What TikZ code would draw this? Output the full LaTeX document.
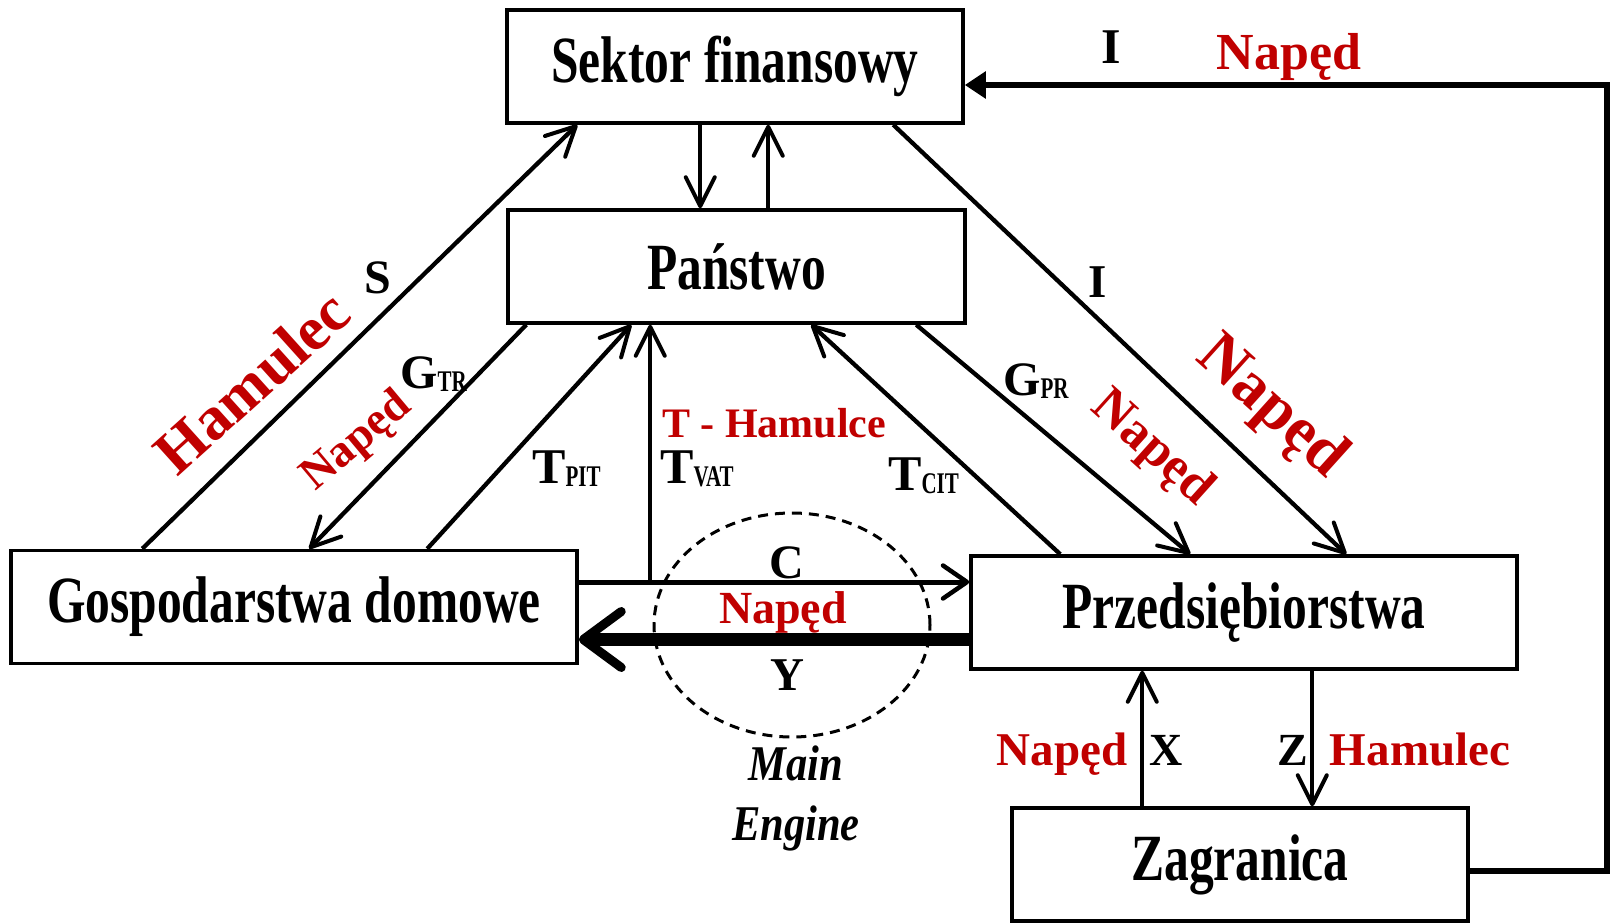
\documentclass[tikz,border=0pt]{standalone}
\usepackage{fontspec}
\setmainfont{Liberation Serif}
\newfontfamily\boxfont[FakeStretch=0.75]{Liberation Serif}
\newfontfamily\enginefont[FakeStretch=0.85]{Liberation Serif}
\newfontfamily\subfont[FakeStretch=0.7]{Liberation Serif}
\usetikzlibrary{arrows.meta,calc}
\definecolor{napred}{RGB}{192,0,0}
\newcommand{\myfs}[1]{\fontsize{#1}{#1}\selectfont}
\newcommand{\lowsub}[1]{\raisebox{-3pt}{\subfont\myfs{30}#1}}
\begin{document}
\begin{tikzpicture}[x=1pt,y=-1pt,
  box/.style={draw,line width=3.5pt,minimum height=113pt,inner sep=0pt,font=\boxfont\bfseries\myfs{66}},
  arr/.style={line width=4.3pt,-{Straight Barb[length=29pt,width=29pt,line width=4pt,round]}},
  lbl/.style={inner sep=0pt,font=\bfseries\myfs{48}},
  redlbl/.style={inner sep=0pt,text=napred},
]
\useasboundingbox (0,0) rectangle (1614,923);

% boxes
\node[box,minimum width=456pt] (fin) at (735,66.5) {Sektor finansowy};
\node[box,minimum width=457pt] (pan) at (736.5,266.5) {Państwo};
\node[box,minimum width=566pt] (gos) at (294,607) {Gospodarstwa domowe};
\node[box,minimum width=546pt] (prz) at (1244,612.5) {Przedsiębiorstwa};
\node[box,minimum width=456pt] (zag) at (1240,864.5) {Zagranica};

% main engine ellipse
\draw[line width=3pt,dash pattern=on 10pt off 7pt] (792,625) ellipse [x radius=138pt, y radius=112pt];

% financial sector <-> state
\draw[arr] ([xshift=195pt]fin.south west) coordinate (fd) -- (fd |- pan.north);
\draw[arr] ([xshift=262pt]pan.north west) coordinate (pu) -- (pu |- fin.south);

% S, G_TR, T_PIT
\draw[arr] ([xshift=133pt]gos.north west) -- ([xshift=72pt]fin.south west);
\draw[arr] ([xshift=20pt]pan.south west) -- ([xshift=300pt]gos.north west);
\draw[arr] ([xshift=418pt]gos.north west) -- ([xshift=125pt]pan.south west);

% C and Y
\draw[line width=5pt,-{Straight Barb[length=24pt,width=33pt,line width=4.5pt,round]}] ([yshift=25pt]gos.east) coordinate (cst) -- (cst -| prz.west);
\draw[line width=13pt,-{Straight Barb[length=38pt,width=56pt,line width=9pt,round]}] ([yshift=-27pt]prz.west) coordinate (yst) -- (yst -| gos.east);

% T_VAT
\coordinate (vat) at ([xshift=144pt]pan.south west |- cst);
\draw[arr] (vat) -- (vat |- pan.south);

% T_CIT, G_PR, I
\draw[arr] ([xshift=91pt]prz.north west) -- ([xshift=305pt]pan.south west);
\draw[arr] ([xshift=410pt]pan.south west) -- ([xshift=221pt]prz.north west);
\draw[arr] ([xshift=388pt]fin.south west) -- ([xshift=377pt]prz.north west);

% X, Z
\draw[arr] ([xshift=132pt]zag.north west) coordinate (xs) -- (xs |- prz.south);
\draw[arr] ([xshift=343pt]prz.south west) coordinate (zs) -- (zs |- zag.north);

% I loop from abroad
\draw[line width=5.5pt,-{Triangle[length=21pt,width=26pt]}] ([yshift=-6.5pt]zag.east) coordinate (ls) -- (ls -| 1607,0) |- ([yshift=-18.5pt]fin.east);

% black labels
\node[lbl] (lS) at (378,278) {S};
\node[lbl,font=\bfseries\myfs{50}] (lI1) at (1111,47) {I};
\node[lbl,font=\bfseries\myfs{47}] (lI2) at (1098,282) {I};
\node[lbl,anchor=base west] (lGTR) at (400,388) {G\lowsub{TR}};
\node[lbl,anchor=base west] (lGPR) at (1003,395) {G\lowsub{PR}};
\node[lbl,anchor=base west,font=\bfseries\myfs{50}] (lTPIT) at (532,483) {T\lowsub{PIT}};
\node[lbl,anchor=base west,font=\bfseries\myfs{50}] (lTVAT) at (660,483) {T\lowsub{VAT}};
\node[lbl,anchor=base west,font=\bfseries\myfs{50}] (lTCIT) at (888,490) {T\lowsub{CIT}};
\node[lbl,anchor=base] (lC) at (787,578) {C};
\node[lbl,anchor=base,font=\bfseries\myfs{47}] (lY) at (787,690) {Y};
\node[lbl,anchor=base,font=\bfseries\myfs{46}] (lX) at (1166,765) {X};
\node[lbl,anchor=base,font=\bfseries\myfs{46}] (lZ) at (1293,765) {Z};
\node[inner sep=0pt,anchor=base,font=\enginefont\bfseries\itshape\myfs{50}] (lMain) at (796,780) {Main};
\node[inner sep=0pt,anchor=base,font=\enginefont\bfseries\itshape\myfs{50}] (lEng) at (796,840) {Engine};

% red labels
\node[redlbl,anchor=base,font=\bfseries\myfs{52}] (rTop) at (1289,70) {Napęd};
\node[redlbl,rotate=42,font=\bfseries\myfs{62}] (rHam) at (252,382) {Hamulec};
\node[redlbl,rotate=40,font=\bfseries\myfs{46}] (rGTR) at (357,442) {Napęd};
\node[redlbl,rotate=-42,font=\bfseries\myfs{64}] (rI) at (1271,408) {Napęd};
\node[redlbl,rotate=-42,font=\bfseries\myfs{52}] (rGPR) at (1152,449) {Napęd};
\node[redlbl,anchor=base west,font=\bfseries\myfs{42}] (rT) at (662,437) {T - Hamulce};
\node[redlbl,anchor=base,font=\bfseries\myfs{46}] (rMid) at (783,623) {Napęd};
\node[redlbl,anchor=base,font=\bfseries\myfs{47}] (rX) at (1062,765) {Napęd};
\node[redlbl,anchor=base,font=\bfseries\myfs{47}] (rZ) at (1420,765) {Hamulec};
\end{tikzpicture}
\end{document}
